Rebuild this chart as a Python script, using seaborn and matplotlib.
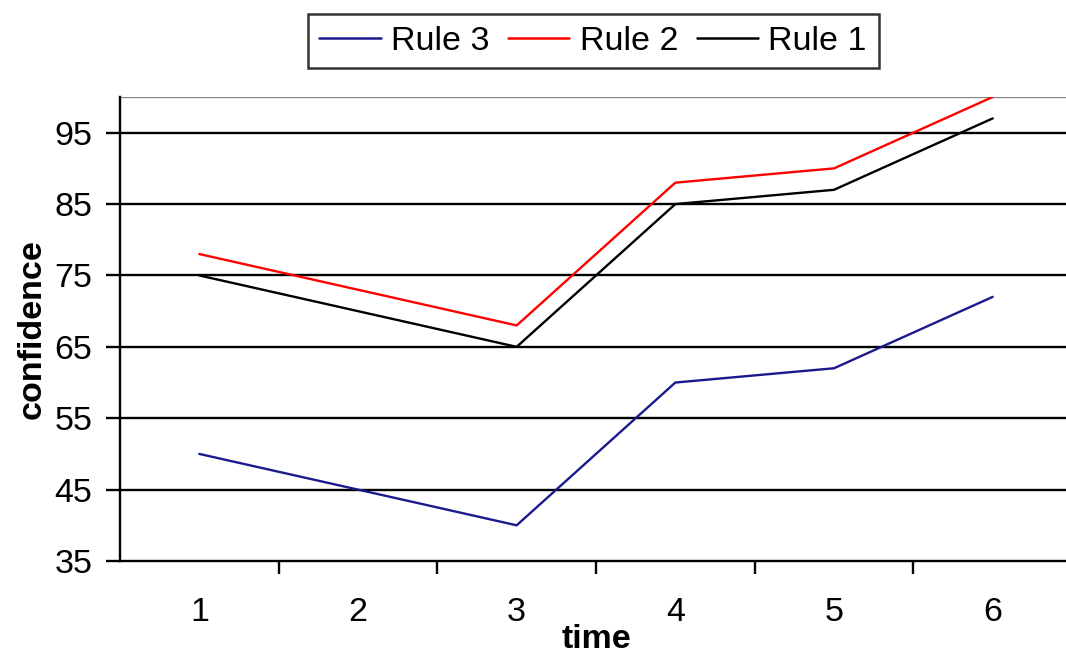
import numpy as np
import pandas as pd
import matplotlib
matplotlib.use("Agg")
import matplotlib.pyplot as plt
import seaborn as sns

# Data
time_points = [1, 2, 3, 4, 5, 6]
rule3 = [50, 45, 40, 60, 62, 72]
rule2 = [78, 73, 68, 88, 90, 100]
rule1 = [75, 70, 65, 85, 87, 97]
rule_names = ["Rule 3", "Rule 2", "Rule 1"]
rule_colors = ["#1a1a8c", "#ff0000", "#000000"]
y_ticks = [35, 45, 55, 65, 75, 85, 95]

df = pd.DataFrame({
    "time": time_points * 3,
    "confidence": rule3 + rule2 + rule1,
    "rule": np.repeat(rule_names, len(time_points)),
})

sns.set_theme(style="white")
plt.rcParams["font.family"] = ["Liberation Sans", "DejaVu Sans"]
plt.rcParams.update({
    "text.color": "black",
    "axes.labelcolor": "black",
    "xtick.color": "black",
    "ytick.color": "black",
})

FS = 24.5

fig = plt.figure(figsize=(10.66, 6.56), dpi=100)
ax = fig.add_axes([120 / 1066, 1 - 561 / 656, 952 / 1066, 464 / 656])

sns.lineplot(data=df, x="time", y="confidence", hue="rule", hue_order=rule_names,
             palette=rule_colors, linewidth=1.7, ax=ax, legend=True)

ax.set_xlim(0.5, 6.5)
ax.set_ylim(35, 100)

# horizontal gridlines
for yv in y_ticks[1:]:
    ax.axhline(yv, color="black", linewidth=1.7, zorder=0)
ax.axhline(100, color="#888888", linewidth=1.7, zorder=0)

ax.set_yticks(y_ticks)
ax.set_xticks(time_points)
ax.set_xticks([1.5, 2.5, 3.5, 4.5, 5.5], minor=True)
ax.tick_params(axis="y", which="major", direction="out", length=10, width=1.7,
               color="black", labelsize=FS, pad=10, left=True)
ax.tick_params(axis="x", which="major", length=0, labelsize=FS, pad=26)
ax.tick_params(axis="x", which="minor", direction="out", length=9, width=1.7,
               color="black", bottom=True)

for side in ["top", "right"]:
    ax.spines[side].set_visible(False)
for side in ["left", "bottom"]:
    ax.spines[side].set_color("black")
    ax.spines[side].set_linewidth(1.7)

ax.set_xlabel("time", fontsize=FS, fontweight="bold", labelpad=-3)
ax.set_ylabel("confidence", fontsize=FS, fontweight="bold", labelpad=5)

leg = ax.legend(loc="center", bbox_to_anchor=(593 / 1066, 1 - 41 / 656),
                bbox_transform=fig.transFigure, ncol=3, fontsize=FS,
                frameon=True, fancybox=False, edgecolor="black",
                handlelength=1.8, handletextpad=0.3, columnspacing=0.55,
                borderpad=0.35)
leg.get_frame().set_linewidth(1.8)
for line in leg.get_lines():
    line.set_linewidth(1.8)

fig.savefig("out.png", dpi=100)
